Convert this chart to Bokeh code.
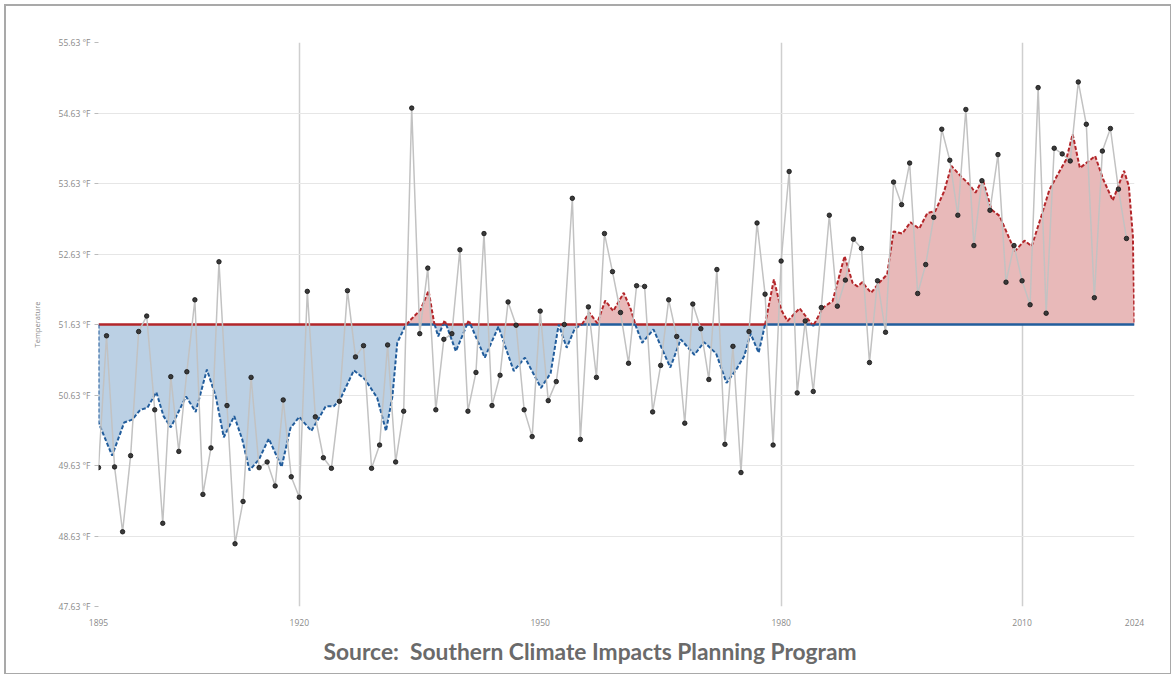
import numpy as np
from bokeh.plotting import figure
from bokeh.models import FixedTicker, PrintfTickFormatter, Title
from bokeh.embed import file_html
from bokeh.resources import INLINE
from bokeh.core.properties import value

# ---------------- data ----------------
years = list(range(1895, 2024))
temps = [
    49.60, 51.47, 49.61, 48.69, 49.77, 51.53, 51.75, 50.42, 48.81, 50.89,  # 1895-1904
    49.83, 50.96, 51.98, 49.22, 49.88, 52.52, 50.48, 48.52, 49.12, 50.88,  # 1905-1914
    49.60, 49.68, 49.34, 50.56, 49.47, 49.18, 52.10, 50.32, 49.74, 49.59,  # 1915-1924
    50.54, 52.11, 51.17, 51.33, 49.59, 49.92, 51.34, 49.68, 50.40, 54.70,  # 1925-1934
    51.50, 52.43, 50.42, 51.42, 51.50, 52.69, 50.40, 50.95, 52.92, 50.48,  # 1935-1944
    50.91, 51.95, 51.62, 50.42, 50.04, 51.82, 50.55, 50.82, 51.63, 53.42,  # 1945-1954
    50.00, 51.88, 50.88, 52.92, 52.38, 51.80, 51.08, 52.18, 52.17, 50.39,  # 1955-1964
    51.05, 51.98, 51.46, 50.23, 51.92, 51.57, 50.85, 52.41, 49.93, 51.32,  # 1965-1974
    49.53, 51.53, 53.07, 52.06, 49.92, 52.53, 53.80, 50.66, 51.68, 50.68,  # 1975-1984
    51.87, 53.18, 51.89, 52.26, 52.84, 52.71, 51.09, 52.25, 51.52, 53.65,  # 1985-1994
    53.33, 53.92, 52.07, 52.48, 53.15, 54.40, 53.96, 53.18, 54.68, 52.75,  # 1995-2004
    53.67, 53.25, 54.04, 52.23, 52.75, 52.25, 51.91, 54.99, 51.79, 54.13,  # 2005-2014
    54.05, 53.95, 55.07, 54.47, 52.01, 54.09, 54.41, 53.55, 52.85,         # 2015-2023
]

# smoothed trend curve at its turning points
smooth_years = [
    1895.0, 1896.7, 1898.2, 1899.2, 1900.2, 1901.1, 1902.2, 1903.1, 1904.0, 1905.0,
    1905.9, 1907.1, 1908.5, 1909.6, 1910.6, 1911.9, 1912.9, 1913.8, 1915.0, 1916.2,
    1917.8, 1918.9, 1920.0, 1921.5, 1923.3, 1924.3, 1925.1, 1926.8, 1928.2, 1929.7,
    1930.8, 1931.6, 1932.2, 1933.2, 1933.9, 1935.1, 1936.1, 1936.8, 1937.3, 1938.1,
    1939.5, 1941.1, 1943.1, 1944.8, 1946.7, 1948.1, 1950.1, 1951.3, 1952.3, 1953.3,
    1954.3, 1955.2, 1956.1, 1957.1, 1958.1, 1959.1, 1960.4, 1961.3, 1961.9, 1962.7,
    1964.1, 1966.2, 1967.5, 1969.2, 1970.4, 1971.9, 1973.2, 1974.4, 1975.4, 1976.2,
    1977.2, 1978.0, 1979.1, 1980.0, 1980.8, 1982.3, 1984.0, 1985.2, 1986.4, 1987.9,
    1988.9, 1989.5, 1990.1, 1991.2, 1992.2, 1993.2, 1994.0, 1995.1, 1996.1, 1997.2,
    1998.2, 1999.2, 2000.3, 2001.2, 2002.4, 2003.4, 2004.2, 2005.1, 2006.2, 2007.2,
    2008.3, 2009.1, 2010.3, 2011.2, 2012.4, 2013.4, 2014.5, 2015.5, 2016.3, 2017.2,
    2019.1, 2020.1, 2021.3, 2022.7, 2023.3, 2023.8, 2024.0,
]
smooth_temps = [
    50.24, 49.77, 50.24, 50.28, 50.42, 50.45, 50.67, 50.33, 50.17, 50.40,
    50.61, 50.39, 50.99, 50.61, 50.03, 50.33, 50.00, 49.56, 49.72, 50.01,
    49.61, 50.16, 50.32, 50.12, 50.47, 50.47, 50.57, 50.98, 50.85, 50.59,
    50.12, 50.61, 51.37, 51.61, 51.70, 51.84, 52.11, 51.65, 51.46, 51.69,
    51.25, 51.69, 51.16, 51.60, 50.97, 51.16, 50.73, 50.94, 51.63, 51.30,
    51.57, 51.63, 51.80, 51.65, 51.97, 51.82, 52.08, 51.84, 51.61, 51.37,
    51.56, 51.02, 51.42, 51.20, 51.38, 51.22, 50.80, 50.99, 51.18, 51.50,
    51.23, 51.63, 52.27, 51.84, 51.68, 51.86, 51.61, 51.87, 51.96, 52.60,
    52.22, 52.17, 52.23, 52.08, 52.22, 52.34, 52.95, 52.92, 53.08, 52.99,
    53.21, 53.24, 53.52, 53.88, 53.73, 53.62, 53.50, 53.69, 53.26, 53.17,
    52.88, 52.67, 52.82, 52.74, 53.17, 53.54, 53.77, 53.97, 54.33, 53.85,
    54.02, 53.69, 53.39, 53.81, 53.59, 52.88, 51.63,
]

baseline = 51.63
y_ticks = [47.63, 48.63, 49.63, 50.63, 51.63, 52.63, 53.63, 54.63, 55.63]
x_ticks = [1895, 1920, 1950, 1980, 2010, 2024]
x_grid_years = [1920, 1980, 2010, 2024]
source_text = "Source:\u00a0 Southern Climate Impacts Planning Program"
y_title = "Temperature"

# ---------------- geometry of the trend area ----------------
sx = [smooth_years[0]]
sy = [baseline]
for i in range(len(smooth_years)):
    if i > 0:
        x0, y0 = smooth_years[i - 1], smooth_temps[i - 1]
        x1, y1 = smooth_years[i], smooth_temps[i]
        if (y0 - baseline) * (y1 - baseline) < 0:
            t = (baseline - y0) / (y1 - y0)
            sx.append(x0 + t * (x1 - x0))
            sy.append(baseline)
    sx.append(smooth_years[i])
    sy.append(smooth_temps[i])
sx = np.array(sx)
sy = np.array(sy)
eps = 1e-9
upper = np.maximum(sy, baseline)
lower = np.minimum(sy, baseline)
red_curve = np.where(sy >= baseline - eps, sy, np.nan)
blue_curve = np.where(sy <= baseline + eps, sy, np.nan)
red_base = np.where(sy <= baseline + eps, baseline, np.nan)
blue_base = np.where(sy >= baseline - eps, baseline, np.nan)

# ---------------- figure ----------------
p = figure(
    width=1167, height=670,
    x_range=(1895, 2024), y_range=(47.63, 55.63),
    output_backend="svg", toolbar_location=None,
    min_border_left=92, min_border_right=39, min_border_top=36, min_border_bottom=70,
)
p.styles = {
    "border-style": "solid",
    "border-color": "#a9a9a9",
    "border-width": "2px 1px 1px 2px",
    "margin": "4px 0px 0px 4px",
}
p.outline_line_color = None
p.background_fill_color = "white"
p.border_fill_color = "white"

p.xgrid.ticker = FixedTicker(ticks=x_grid_years)
p.xgrid.grid_line_color = "#cfcfcf"
p.xgrid.grid_line_width = 1.5
p.ygrid.ticker = FixedTicker(ticks=y_ticks)
p.ygrid.grid_line_color = "#e6e6e6"
p.ygrid.grid_line_width = 1.2

p.xaxis.ticker = FixedTicker(ticks=x_ticks)
p.xaxis.formatter = PrintfTickFormatter(format="%d")
p.yaxis.ticker = FixedTicker(ticks=y_ticks)
p.yaxis.formatter = PrintfTickFormatter(format="%.2f °F")
for ax in (p.xaxis, p.yaxis):
    ax.axis_line_color = None
    ax.major_label_text_font = "Open Sans"
    ax.major_label_text_font_size = "8.5px"
    ax.major_label_text_color = "#8a8a8a"
    ax.minor_tick_line_color = None
p.xaxis.major_tick_line_color = None
p.xaxis.major_label_standoff = 6
p.yaxis.major_tick_line_color = "#bbbbbb"
p.yaxis.major_tick_out = 4
p.yaxis.major_tick_in = 0
p.yaxis.major_label_standoff = 4
p.yaxis.axis_label = y_title
p.yaxis.axis_label_text_font = "Open Sans"
p.yaxis.axis_label_text_font_size = "7.5px"
p.yaxis.axis_label_text_font_style = "normal"
p.yaxis.axis_label_text_color = "#8a8a8a"
p.yaxis.axis_label_standoff = 14

# trend areas
p.varea(x=sx, y1=baseline, y2=upper, fill_color="#e8b9b9", fill_alpha=1.0)
p.varea(x=sx, y1=lower, y2=baseline, fill_color="#bbd0e4", fill_alpha=1.0)
p.line(sx, red_base, line_color="#b3262a", line_width=2.5)
p.line(sx, blue_base, line_color="#225d9c", line_width=2.5)
p.line(sx, red_curve, line_color="#b3262a", line_width=2, line_dash="4 2")
p.line(sx, blue_curve, line_color="#225d9c", line_width=2, line_dash="4 2")

# annual values
p.line(years, temps, line_color="#c2c2c2", line_width=1.5)
p.scatter(years, temps, size=4.5, fill_color="#3a3a3a", line_color="#111111", line_width=0.8)

src = Title(text=source_text, align="left", text_font="Lato", text_font_size="22.8px",
            text_font_style="bold", text_color="#6a6a6a", standoff=13, offset=225)
p.add_layout(src, "below")

open("out.html", "w").write(file_html(p, INLINE))
